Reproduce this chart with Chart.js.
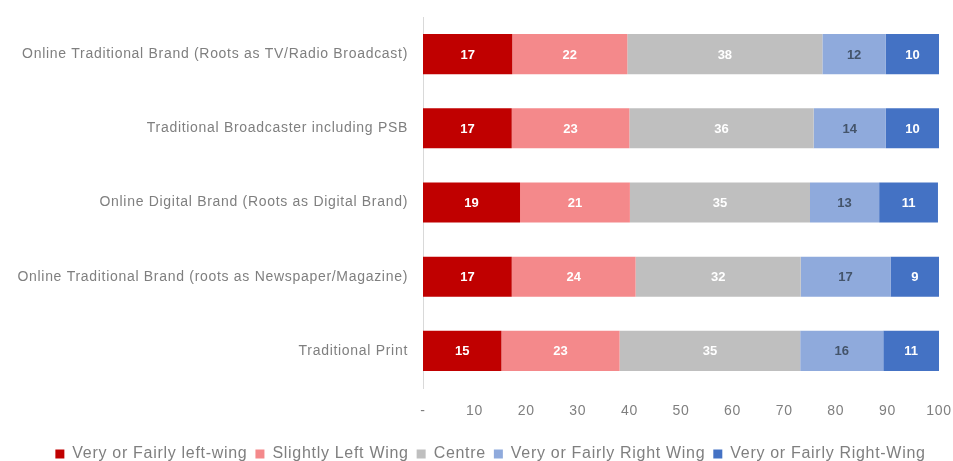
<!DOCTYPE html>
<html>
<head>
<meta charset="utf-8">
<script src="https://cdn.jsdelivr.net/npm/chart.js@4.4.1/dist/chart.umd.min.js"></script>
<style>
  html, body { margin: 0; padding: 0; background: #fff; }
  #wrap { width: 953px; height: 461px; }
</style>
</head>
<body>
<div id="wrap"><canvas id="myChart"></canvas></div>
<script>
// Kategorier (merkevaretyper)
const categories = [
    'Online Traditional Brand (Roots as TV/Radio Broadcast)',
    'Traditional Broadcaster including PSB',
    'Online Digital Brand (Roots as Digital Brand)',
    'Online Traditional Brand (roots as Newspaper/Magazine)',
    'Traditional Print'
];

// Serienavn
const seriesNames = [
    'Very or Fairly left-wing',
    'Slightly Left Wing',
    'Centre',
    'Very or Fairly Right Wing',
    'Very or Fairly Right-Wing'
];

// Verdier lest fra bildet (prosent)
const leftWing = [17.3, 17.2, 18.8, 17.2, 15.2];
const slightlyLeft = [22.3, 22.8, 21.3, 24.0, 22.9];
const centre = [37.8, 35.7, 34.9, 32.0, 35.0];
const rightWing = [12.3, 14.0, 13.4, 17.4, 16.1];
const rightWing2 = [10.3, 10.3, 11.4, 9.4, 10.8];

// Akseverdier
const xTicks = [0, 10, 20, 30, 40, 50, 60, 70, 80, 90, 100];

const colors = ['#C00000', '#F4898B', '#BFBFBF', '#8FAADC', '#4472C4'];
const labelColors = ['#ffffff', '#ffffff', '#ffffff', '#44546A', '#ffffff'];

const FONT = "'Liberation Sans', Arial, sans-serif";

const seriesData = [leftWing, slightlyLeft, centre, rightWing, rightWing2];

// Litt ekstra bokstavavstand, som i originalen
const spacing = {
    id: 'spacing',
    beforeLayout(chart) { chart.ctx.letterSpacing = '0.7px'; },
    beforeDraw(chart) { chart.ctx.letterSpacing = '0.7px'; },
    // flytt forklaringen litt til høyre
    afterLayout(chart) {
        chart.legend.left += 17;
        chart.legend.right += 17;
    }
};

// Plugin som tegner verdiene midt i hver stolpe
const barLabels = {
    id: 'barLabels',
    afterDatasetsDraw(chart) {
        const c = chart.ctx;
        c.save();
        c.letterSpacing = '0px';
        c.font = 'bold 13px ' + FONT;
        c.textAlign = 'center';
        c.textBaseline = 'middle';
        chart.data.datasets.forEach(function(ds, i) {
            const meta = chart.getDatasetMeta(i);
            meta.data.forEach(function(bar, j) {
                const mid = (bar.x + bar.base) / 2;
                c.fillStyle = labelColors[i];
                c.fillText(Math.round(ds.data[j]), mid, bar.y + 1);
            });
        });
        c.restore();
    }
};

const ctx = document.getElementById('myChart').getContext('2d');

const myChart = new Chart(ctx, {
    type: 'bar',
    data: {
        labels: categories,
        datasets: seriesData.map(function(d, i) {
            return {
                label: seriesNames[i],
                data: d,
                backgroundColor: colors[i],
                borderWidth: 0,
                categoryPercentage: 0.54,
                barPercentage: 1.0
            };
        })
    },
    plugins: [spacing, barLabels],
    options: {
        indexAxis: 'y',
        responsive: true,
        maintainAspectRatio: false,
        animation: false,
        layout: { padding: { top: 17, right: 14, left: 8, bottom: -11 } },
        scales: {
            x: {
                stacked: true,
                min: 0,
                max: 100,
                afterBuildTicks(scale) {
                    scale.ticks = xTicks.map(function(v) { return { value: v }; });
                },
                afterFit(scale) {
                    scale.height = 50;
                    scale.paddingLeft = 0;
                    scale.paddingRight = 0;
                },
                grid: { display: false, drawTicks: false },
                border: { display: false },
                ticks: {
                    padding: 15,
                    color: '#7F7F7F',
                    font: { family: FONT, size: 14 },
                    callback: function(v) { return v === 0 ? '-' : v; }
                }
            },
            y: {
                stacked: true,
                grid: { display: false, drawTicks: false },
                border: { display: true, color: '#D9D9D9', width: 1 },
                afterFit(scale) {
                    scale.width = 415;
                    scale.paddingTop = 0;
                    scale.paddingBottom = 0;
                },
                ticks: {
                    padding: 15,
                    color: '#7F7F7F',
                    font: { family: FONT, size: 14 }
                }
            }
        },
        plugins: {
            legend: {
                position: 'bottom',
                labels: {
                    boxWidth: 9,
                    boxHeight: 9,
                    padding: 8,
                    color: '#7F7F7F',
                    font: { family: FONT, size: 16 }
                }
            },
            tooltip: { enabled: false }
        }
    }
});
</script>
</body>
</html>
